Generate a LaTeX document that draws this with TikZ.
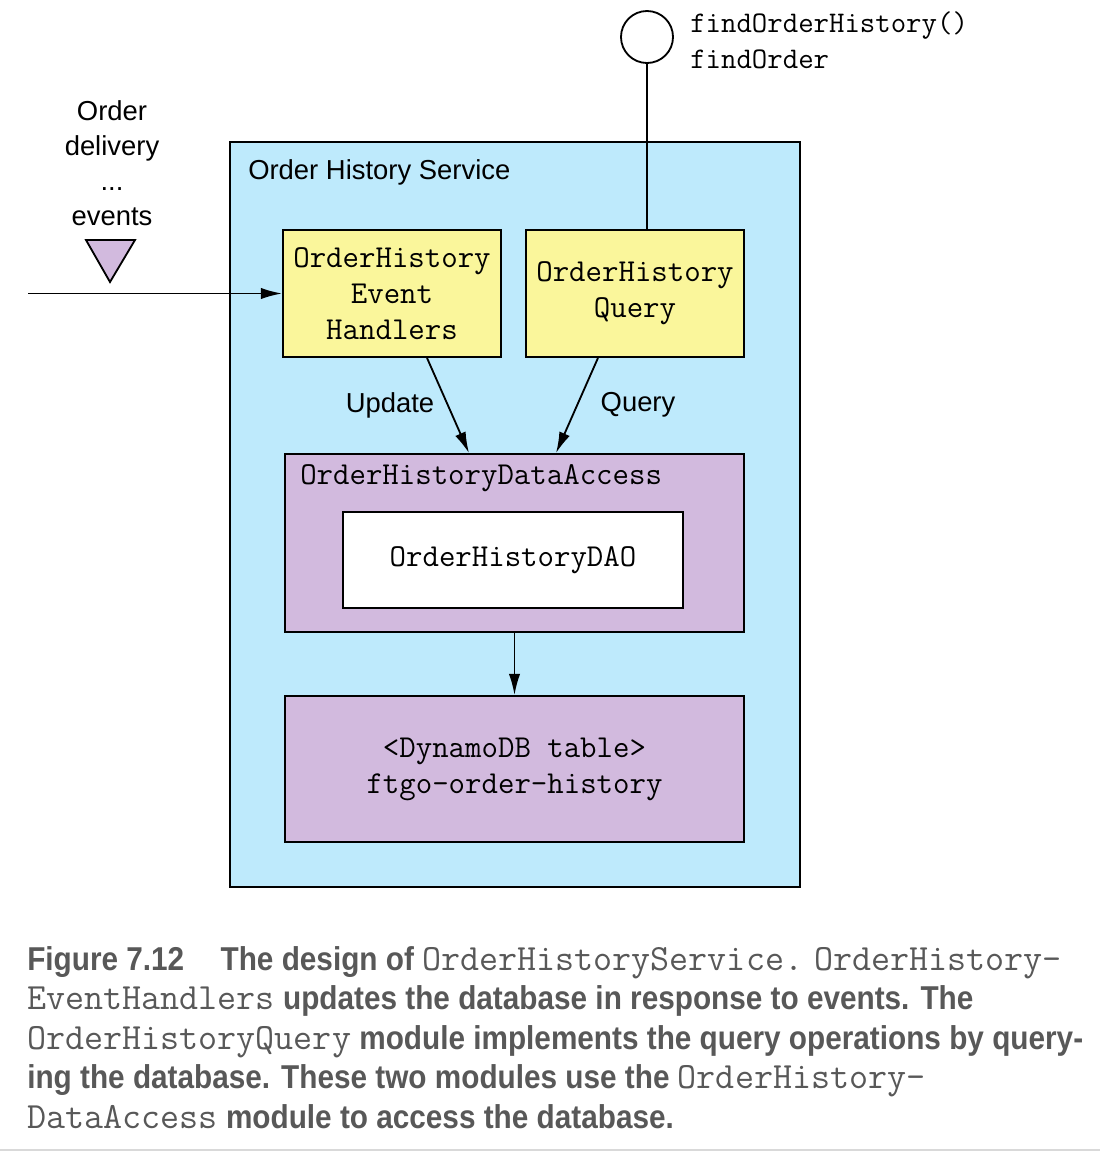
\documentclass[tikz,border=0pt]{standalone}
\usepackage{fontspec}
\setmainfont{Liberation Sans}
\newfontfamily\capfont[FakeStretch=0.9]{Liberation Sans Bold}
\usepackage{tikz}
\usetikzlibrary{arrows.meta}

\definecolor{servblue}{RGB}{190,234,252}
\definecolor{modyellow}{RGB}{250,246,155}
\definecolor{daopurple}{RGB}{210,186,222}
\definecolor{capgray}{RGB}{88,88,88}

\begin{document}
\begin{tikzpicture}[x=0.025cm, y=-0.025cm]
	\tikzset{box/.style = {draw, line width=1.3pt, inner sep=0pt}}
	\tikzset{mono/.style = {font=\ttfamily\fontsize{22.7}{25.5}\selectfont}}
	\tikzset{module/.style = {box, mono, fill=modyellow, minimum width=5.45cm, minimum height=3.175cm, align=center}}
	\tikzset{access/.style = {box, fill=daopurple, minimum width=11.475cm}}
	\tikzset{label/.style = {font=\fontsize{19.5}{25}\selectfont, inner sep=0pt}}
	\tikzset{edge/.style = {-{Latex[length=15pt, width=8pt]}, line width=1.3pt}}
	\useasboundingbox (0,0) rectangle (1100,1152);

	% service and its modules
	\node[box, fill=servblue, minimum width=14.25cm, minimum height=18.625cm] (service) at (515,514.5) {};
	\node[label, anchor=west] (servname) at (248,172) {Order History Service};
	\node[module] (handlers) at (392,293.5) {OrderHistory\\Event\\Handlers};
	\node[module] (query) at (635,293.5) {OrderHistory\\Query};
	\node[access, minimum height=4.45cm] (dataaccess) at (514.5,543) {};
	\node[label, mono, anchor=west] (accessname) at (300,478) {OrderHistoryDataAccess};
	\node[box, mono, fill=white, minimum width=8.5cm, minimum height=2.4cm] (dao) at (513,560) {OrderHistoryDAO};
	\node[access, mono, minimum height=3.65cm, align=center] (table) at (514.5,769) {<DynamoDB table>\\ftgo-order-history};

	% API
	\node[box, circle, fill=white, minimum size=1.3cm] (api) at (647,37) {};
	\node[label, anchor=west, align=left, font=\ttfamily\fontsize{21.3}{25.5}\selectfont] (ops) at (690,40) {findOrderHistory()\\findOrder};
	\draw[line width=1.3pt] (api.south) -- (api.south |- query.north);

	% events
	\node[label, align=center] (events) at (112,163) {Order\\delivery\\...\\events};
	\draw[box, fill=daopurple] (86,240) -- (135,240) -- (110,282) -- cycle;
	\coordinate (source) at (28,293.5);
	\draw[edge] (source) -- (handlers.west);

	% module dependencies
	\draw[edge] ([xshift=0.875cm]handlers.south) -- ([xshift=-1.1375cm]dataaccess.north);
	\draw[edge] ([xshift=-0.925cm]query.south) -- ([xshift=1.0375cm]dataaccess.north);
	\node[label] (update) at (390,405) {Update};
	\node[label] (querylbl) at (638,405) {Query};
	\draw[edge] (dataaccess.south) -- (table.north);

	% caption
	\node[anchor=north west, align=left, inner sep=0pt, text=capgray,
		font=\capfont\fontsize{23.5}{28.1}\selectfont] (caption) at (27,946)
		{Figure 7.12\hspace{1.1em}The design of {\ttfamily\fontsize{26.3}{28.1}\selectfont OrderHistoryService.} {\ttfamily\fontsize{26.3}{28.1}\selectfont OrderHistory-}\\
		{\ttfamily\fontsize{26.3}{28.1}\selectfont EventHandlers} updates the database in response to events. The\\
		{\ttfamily\fontsize{26.3}{28.1}\selectfont OrderHistoryQuery} module implements the query operations by query-\\
		ing the database. These two modules use the {\ttfamily\fontsize{26.3}{28.1}\selectfont OrderHistory-}\\
		{\ttfamily\fontsize{26.3}{28.1}\selectfont DataAccess} module to access the database.};
	\draw[gray!30, line width=1pt] (0,1150) -- (1100,1150);
\end{tikzpicture}
\end{document}
